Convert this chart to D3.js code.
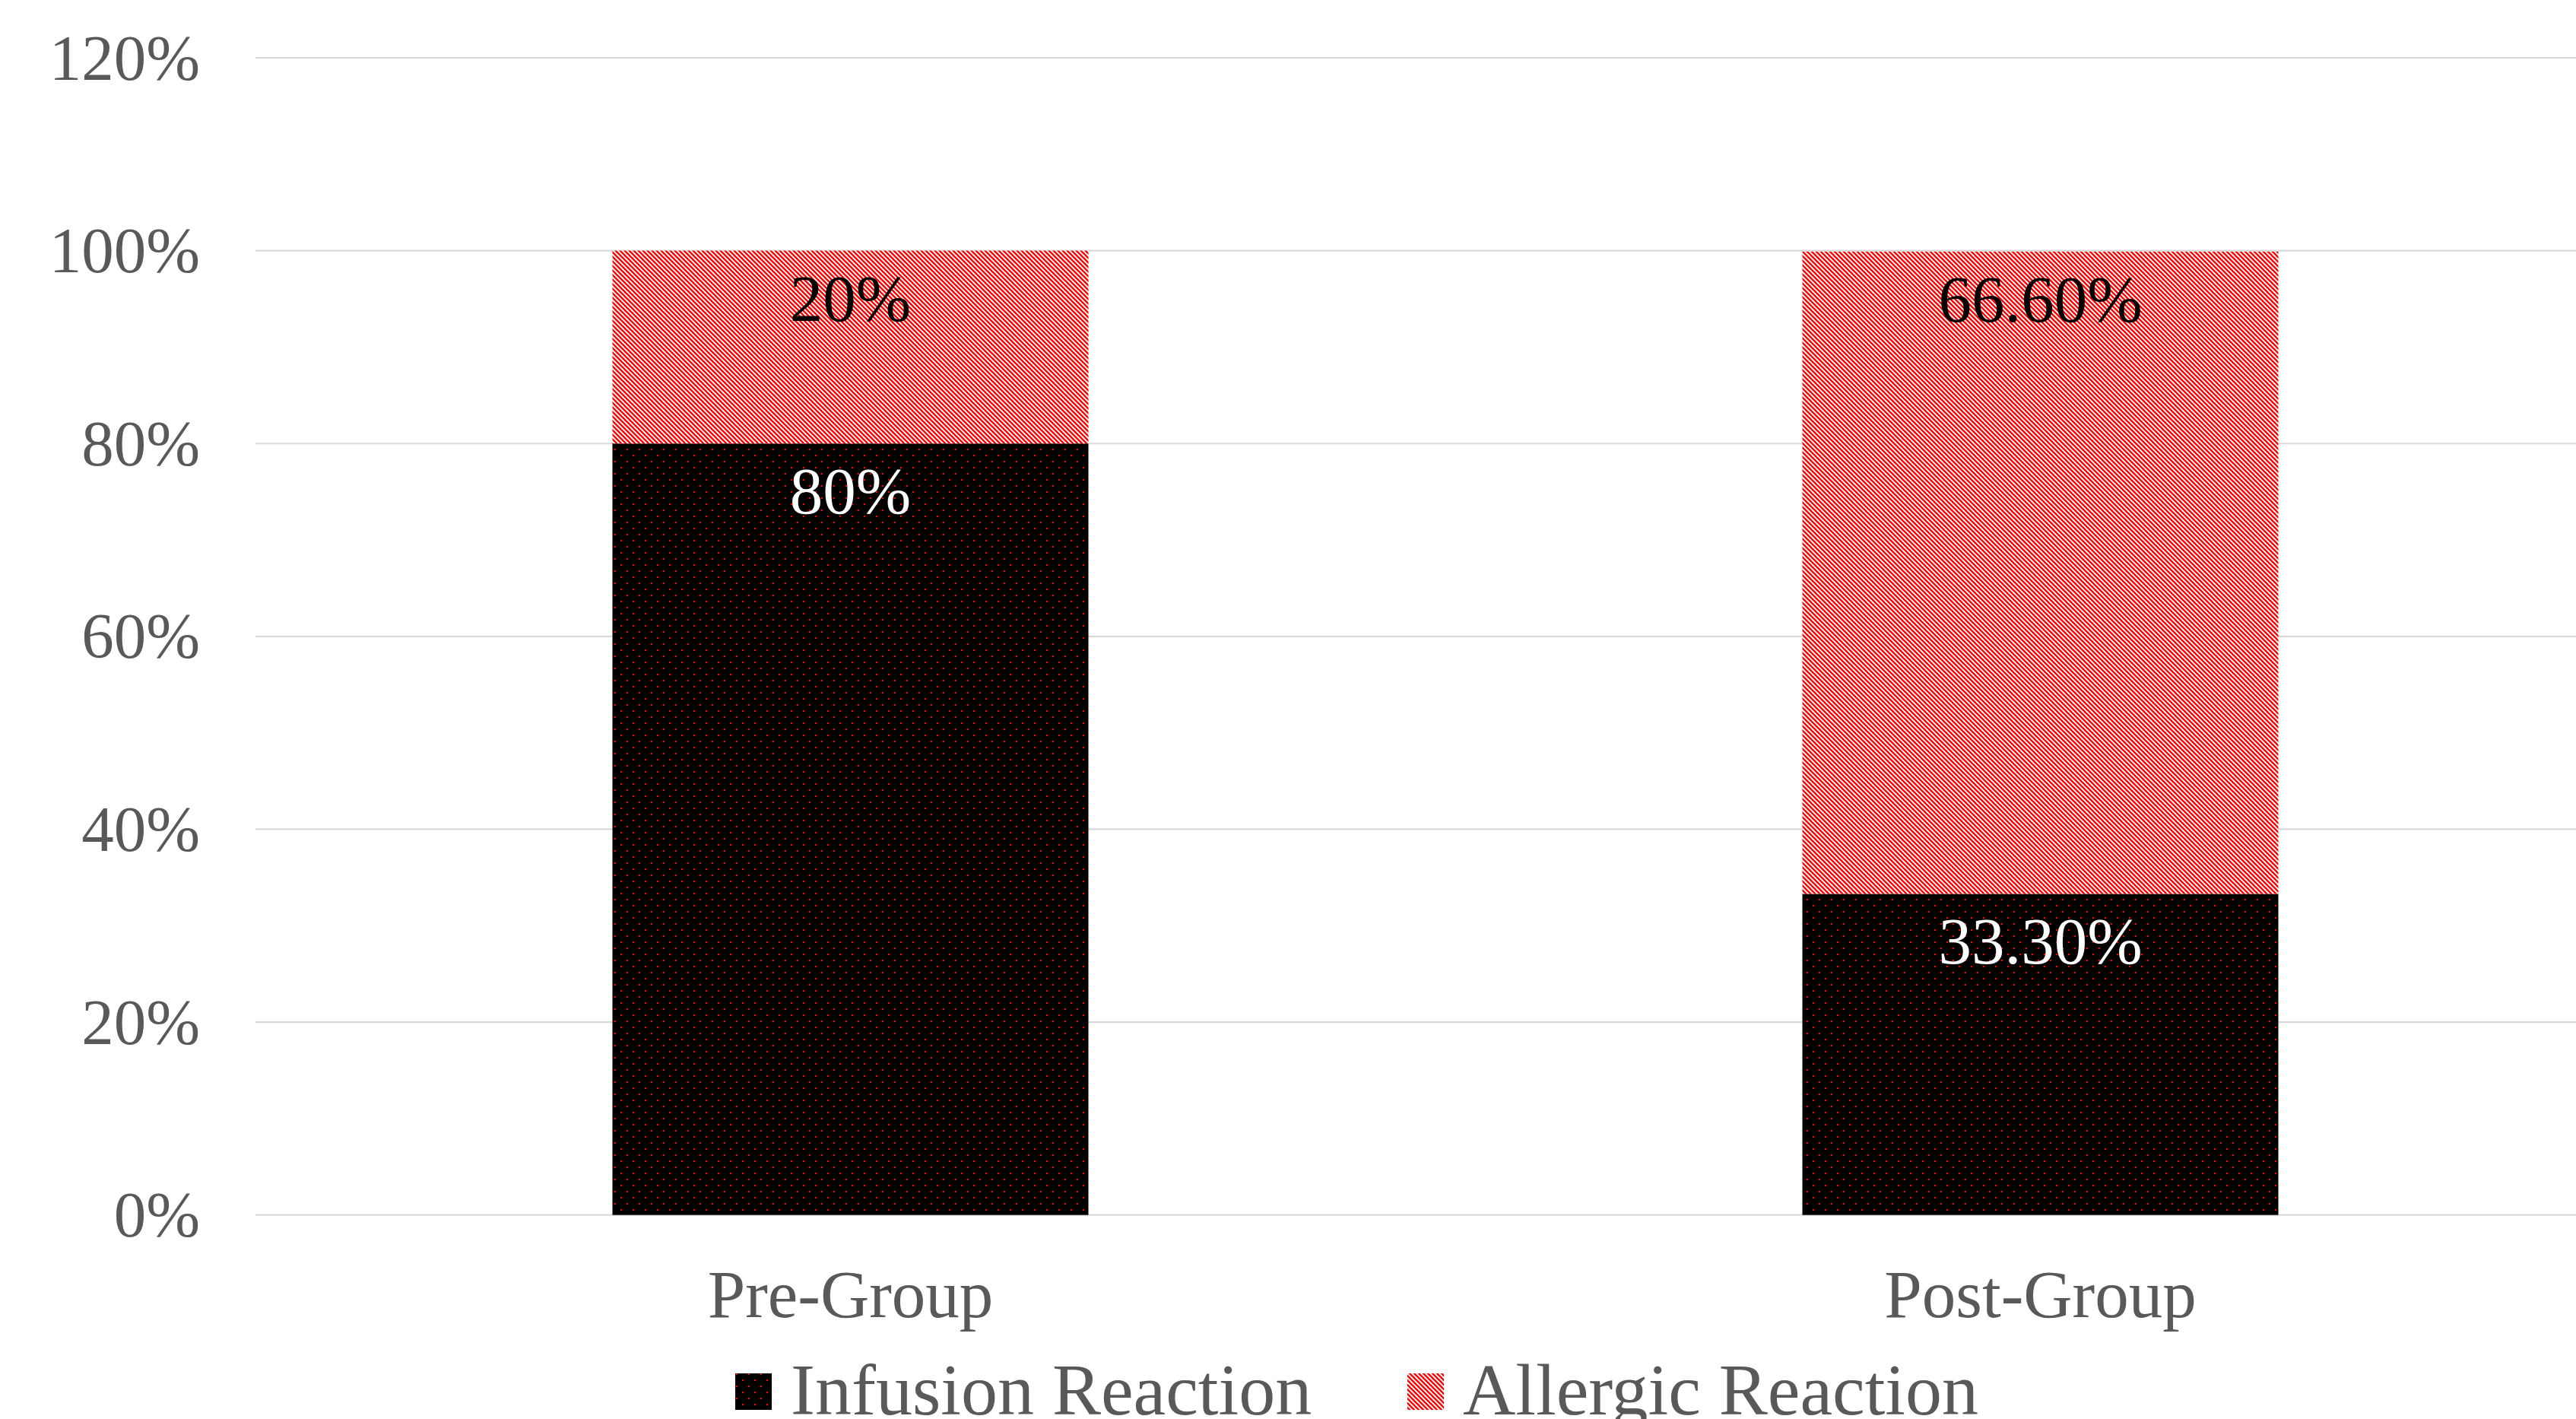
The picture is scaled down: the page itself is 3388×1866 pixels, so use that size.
<!DOCTYPE html>
<html>
<head>
<meta charset="utf-8">
<script src="https://cdn.jsdelivr.net/npm/d3@7"></script>
<style>
  html, body { margin: 0; padding: 0; background: #fff; overflow: hidden; }
  svg { display: block; }
</style>
</head>
<body>
<script>
const categories = ["Pre-Group", "Post-Group"];
const seriesNames = ["Infusion Reaction", "Allergic Reaction"];
const infusionValues = [0.80, 0.333];
const allergicValues = [0.20, 0.666];
const infusionLabels = ["80%", "33.30%"];
const allergicLabels = ["20%", "66.60%"];
const yTicks = [0, 0.2, 0.4, 0.6, 0.8, 1.0, 1.2];

const W = 3388, H = 1866;
const svg = d3.select("body").append("svg").attr("width", W).attr("height", H);
svg.append("rect").attr("width", W).attr("height", H).attr("fill", "#fff");

const defs = svg.append("defs");
// dotted pattern (black with red dots)
const dots = defs.append("pattern").attr("id", "dots")
  .attr("patternUnits", "userSpaceOnUse").attr("width", 16).attr("height", 16)
  .attr("x", 8).attr("y", 14);
dots.append("rect").attr("width", 16).attr("height", 16).attr("fill", "#000");
dots.append("rect").attr("x", 0).attr("y", 0).attr("width", 2).attr("height", 2).attr("fill", "#ff0000");
dots.append("rect").attr("x", 8).attr("y", 8).attr("width", 2).attr("height", 2).attr("fill", "#ff0000");
// downward diagonal stripes (red on white)
const stripes = defs.append("pattern").attr("id", "stripes")
  .attr("patternUnits", "userSpaceOnUse").attr("width", 6).attr("height", 6);
stripes.append("rect").attr("width", 6).attr("height", 6).attr("fill", "#fff");
stripes.append("path").attr("d", "M-1,-1L7,7M-4,2L4,10M2,-4L10,4")
  .attr("stroke", "#ff0000").attr("stroke-width", 2.3).attr("fill", "none");

const x = d3.scaleBand().domain(categories).range([336, 3466])
  .paddingInner(0.6).paddingOuter(0.3);
const y = d3.scaleLinear().domain([0, 1.2]).range([1597.7, 76]);

const font = "'Liberation Serif', 'Times New Roman', serif";
const gray = "#595959";

// gridlines
svg.append("g").selectAll("line").data(yTicks).join("line")
  .attr("x1", 336).attr("x2", 3466)
  .attr("y1", d => y(d)).attr("y2", d => y(d))
  .attr("stroke", "#d9d9d9").attr("stroke-width", 2.2);

// y axis labels
const yAxis = d3.axisLeft(y).tickValues(yTicks).tickFormat(d3.format(".0%")).tickSize(0).tickPadding(0);
const gy = svg.append("g").attr("transform", "translate(263,0)").call(yAxis);
gy.select(".domain").remove();
gy.selectAll("text").attr("font-family", font).attr("font-size", 85).attr("fill", gray)
  .attr("dy", "0.33em");

// x axis labels
const xAxis = d3.axisBottom(x).tickSize(0).tickPadding(0);
const gx = svg.append("g").attr("transform", "translate(0,1732)").call(xAxis);
gx.select(".domain").remove();
gx.selectAll("text").attr("font-family", font).attr("font-size", 89).attr("fill", gray).attr("dy", 0);

// stacked data
const rows = categories.map((c, i) => ({ cat: c, infusion: infusionValues[i], allergic: allergicValues[i] }));
const stack = d3.stack().keys(["infusion", "allergic"]);
const stacked = stack(rows);
const fills = { infusion: "url(#dots)", allergic: "url(#stripes)" };
const labels = { infusion: infusionLabels, allergic: allergicLabels };
const labelColors = { infusion: "#fff", allergic: "#000" };

stacked.forEach(layer => {
  const g = svg.append("g");
  g.selectAll("rect").data(layer).join("rect")
    .attr("x", d => x(d.data.cat))
    .attr("width", x.bandwidth())
    .attr("y", d => y(d[1]))
    .attr("height", d => y(d[0]) - y(d[1]))
    .attr("fill", fills[layer.key]);
});
stacked.forEach(layer => {
  svg.append("g").selectAll("text").data(layer).join("text")
    .attr("x", d => x(d.data.cat) + x.bandwidth() / 2)
    .attr("y", d => y(d[1]) + 92)
    .attr("text-anchor", "middle")
    .attr("font-family", font).attr("font-size", 87)
    .attr("fill", labelColors[layer.key])
    .text((d, i) => labels[layer.key][i]);
});

// legend
const legendX = [967, 1851];
const legendKeys = ["infusion", "allergic"];
const lg = svg.append("g");
seriesNames.forEach((name, i) => {
  lg.append("rect").attr("x", legendX[i]).attr("y", 1806).attr("width", 48).attr("height", 48)
    .attr("fill", fills[legendKeys[i]]);
  lg.append("text").attr("x", legendX[i] + 73).attr("y", 1860)
    .attr("font-family", font).attr("font-size", 96).attr("fill", gray).text(name);
});
</script>
</body>
</html>
